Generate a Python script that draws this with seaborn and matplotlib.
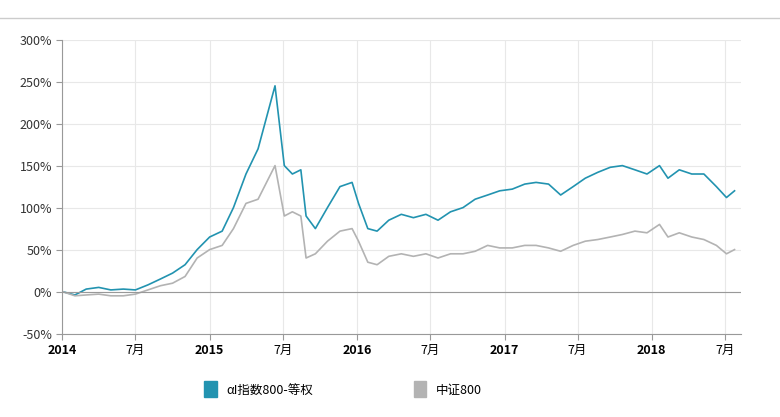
import pandas as pd, numpy as np
import matplotlib
matplotlib.use("Agg")
import matplotlib.pyplot as plt
import seaborn as sns
from matplotlib.patches import Patch

plt.rcParams["font.family"] = "sans-serif"
plt.rcParams["font.sans-serif"] = ["Noto Sans CJK JP", "Noto Sans CJK SC", "DejaVu Sans"]

dates = ["2014-01-01","2014-02-01","2014-03-01","2014-04-01","2014-05-01","2014-06-01","2014-07-01","2014-08-01","2014-09-01","2014-10-01","2014-11-01","2014-12-01",
 "2015-01-01","2015-02-01","2015-03-01","2015-04-01","2015-05-01","2015-06-12","2015-07-05","2015-07-25","2015-08-15","2015-08-28","2015-09-20","2015-10-20","2015-11-20","2015-12-20",
 "2016-01-05","2016-01-28","2016-02-20","2016-03-20","2016-04-20","2016-05-20","2016-06-20","2016-07-20","2016-08-20","2016-09-20","2016-10-20","2016-11-20","2016-12-20",
 "2017-01-20","2017-02-20","2017-03-20","2017-04-20","2017-05-20","2017-06-20","2017-07-20","2017-08-20","2017-09-20","2017-10-20","2017-11-20","2017-12-20",
 "2018-01-20","2018-02-10","2018-03-10","2018-04-10","2018-05-10","2018-06-10","2018-07-05","2018-07-25"]
ai800 = [0,-4,3,5,2,3,2,8,15,22,32,50,65,72,100,140,170,245,150,140,145,90,75,100,125,130,
 105,75,72,85,92,88,92,85,95,100,110,115,120,122,128,130,128,115,125,135,142,148,150,145,140,
 150,135,145,140,140,125,112,120]
csi800 = [0,-5,-4,-3,-5,-5,-3,2,7,10,18,40,50,55,75,105,110,150,90,95,90,40,45,60,72,75,
 60,35,32,42,45,42,45,40,45,45,48,55,52,52,55,55,52,48,55,60,62,65,68,72,70,
 80,65,70,65,62,55,45,50]
names = ["αI指数800-等权", "中证800"]
colors = ["#2293b0", "#b3b3b3"]

df = pd.DataFrame({"date": pd.to_datetime(dates), names[0]: ai800, names[1]: csi800})
long = df.melt("date", var_name="series", value_name="v")

fig = plt.figure(figsize=(7.8, 4.17), dpi=100)
ax = fig.add_axes([0.08, 0.2, 0.87, 0.705])
sns.lineplot(data=long, x="date", y="v", hue="series", palette=colors, ax=ax, legend=False, linewidth=1.2)
ax.set_ylim(-50, 300)
ax.set_xlim(pd.Timestamp("2014-01-01"), pd.Timestamp("2018-08-10"))
ax.set_yticks(range(-50, 301, 50))
ax.set_yticklabels([f"{v}%" for v in range(-50, 301, 50)], fontsize=9, color="#333")
ticks = []
labels = []
for y in range(2014, 2019):
    ticks += [pd.Timestamp(f"{y}-01-01"), pd.Timestamp(f"{y}-07-01")]
    labels += [str(y), "7月"]
ax.set_xticks(ticks)
ax.set_xticklabels(labels, fontsize=9)
for t in ax.get_xticklabels():
    if t.get_text() != "7月":
        t.set_fontweight("bold")
ax.grid(True, color="#e8e8e8", linewidth=0.8)
ax.axhline(0, color="#999", linewidth=0.8)
for s in ["top", "right"]:
    ax.spines[s].set_visible(False)
ax.spines["left"].set_color("#999")
ax.spines["bottom"].set_color("#999")
ax.tick_params(length=4, color="#999")
ax.set_xlabel(""); ax.set_ylabel("")
fig.add_artist(plt.Line2D([0, 1], [0.957, 0.957], color="#ccc", linewidth=1))
handles = [Patch(color=c) for c in colors]
fig.legend(handles, names, loc="lower center", bbox_to_anchor=(0.44, 0.02), ncol=2, frameon=False,
           fontsize=9, columnspacing=8, handlelength=1.0, handleheight=1.6)
fig.savefig("out.png", dpi=100)
